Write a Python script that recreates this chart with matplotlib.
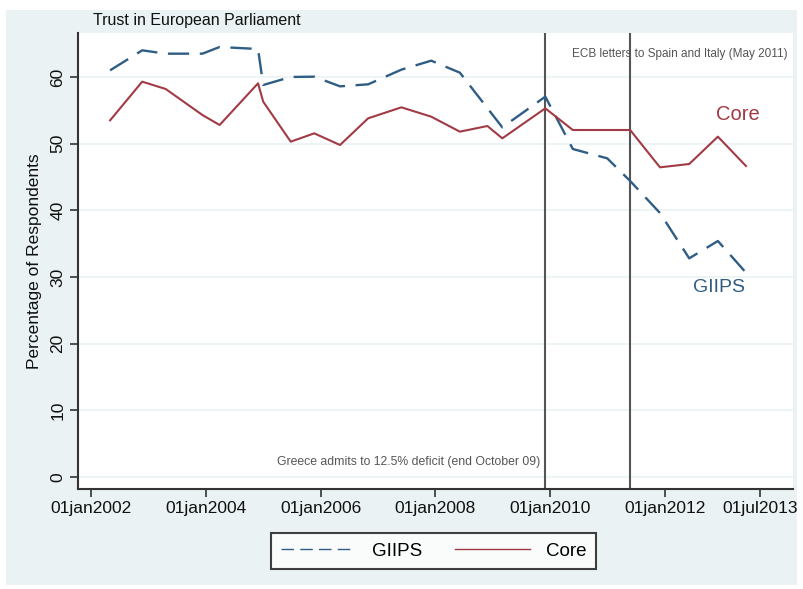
import matplotlib
matplotlib.use("Agg")
import matplotlib.pyplot as plt
from matplotlib.patches import Rectangle
from matplotlib import font_manager

# ---- data (decimal years, percentage of respondents) ----
giips_dates = [2002.33, 2002.89, 2003.30, 2003.94, 2004.24, 2004.91, 2005.00,
               2005.48, 2005.89, 2006.34, 2006.83, 2007.41, 2007.93, 2008.43,
               2009.17, 2009.92, 2010.40, 2011.00, 2011.40, 2011.92, 2012.43,
               2012.93, 2013.42]
giips_values = [61.0, 64.0, 63.5, 63.5, 64.5, 64.2, 58.8,
                60.0, 60.05, 58.6, 58.9, 61.1, 62.45, 60.65,
                52.45, 57.05, 49.2, 47.8, 44.4, 39.6, 32.8,
                35.4, 30.65]

core_dates = [2002.33, 2002.89, 2003.30, 2003.94, 2004.24, 2004.91, 2005.00,
              2005.48, 2005.89, 2006.34, 2006.83, 2007.41, 2007.93, 2008.43,
              2008.91, 2009.17, 2009.92, 2010.40, 2011.00, 2011.40, 2011.92,
              2012.43, 2012.93, 2013.42]
core_values = [53.5, 59.3, 58.2, 54.3, 52.8, 59.05, 56.3,
               50.3, 51.55, 49.8, 53.8, 55.45, 54.05, 51.8,
               52.65, 50.8, 55.3, 52.05, 52.05, 52.05, 46.45,
               46.95, 51.05, 46.65]

event_dates = [2009.92, 2011.40]
xtick_pos = [2002.0, 2004.0, 2006.0, 2008.0, 2010.0, 2012.0, 2013.67]
xtick_labels = ["01jan2002", "01jan2004", "01jan2006", "01jan2008",
                "01jan2010", "01jan2012", "01jul2013"]
ytick_pos = [0, 10, 20, 30, 40, 50, 60]

BG = "#eaf2f3"
BLUE = "#2f5d84"
RED = "#a23a45"

names = {f.name for f in font_manager.fontManager.ttflist}
base = "Liberation Sans" if "Liberation Sans" in names else "DejaVu Sans"
plt.rcParams["font.family"] = [base, "DejaVu Sans"]

fig = plt.figure(figsize=(8.04, 5.89), dpi=100)
fig.patch.set_facecolor("white")
W, H = 804, 589
fig.add_artist(Rectangle((6 / W, 1 - 585 / H), (797 - 6) / W, (585 - 10) / H,
                         transform=fig.transFigure, facecolor=BG,
                         edgecolor="none", zorder=0))

ax = fig.add_axes([78 / W, 1 - 489 / H, (793 - 78) / W, (489 - 33) / H])
ax.set_facecolor("white")
ax.set_xlim(2001.77, 2014.24)
ax.set_ylim(-1.8, 66.6)

for y in ytick_pos:
    ax.axhline(y, color=BG, lw=1.2, zorder=1)

for d in event_dates:
    ax.axvline(d, color="#555555", lw=1.5, zorder=2)

g_line, = ax.plot(giips_dates, giips_values, color=BLUE, lw=1.7,
                  dashes=(9, 4.5), zorder=3, label="GIIPS")
c_line, = ax.plot(core_dates, core_values, color=RED, lw=1.5, zorder=3,
                  label="Core")

ax.spines["top"].set_visible(False)
ax.spines["right"].set_visible(False)
for s in ("left", "bottom"):
    ax.spines[s].set_color("#333333")
    ax.spines[s].set_linewidth(1.5)

ax.set_yticks(ytick_pos)
ax.set_yticklabels([str(v) for v in ytick_pos], rotation=90, va="center",
                   fontsize=12.5)
ax.set_xticks(xtick_pos)
ax.set_xticklabels(xtick_labels, fontsize=12.5)
ax.tick_params(axis="both", direction="out", length=6, width=1.2,
               color="#333333", labelcolor="#111111")
ax.tick_params(axis="x", pad=3)
ax.tick_params(axis="y", pad=3)

ax.set_ylabel("Percentage of Respondents", fontsize=12.5, labelpad=6,
              color="#111111")

fig.text(93 / W, 1 - 20 / H, "Trust in European Parliament", fontsize=11.5,
         ha="left", va="center", color="#111111")

ax.text(2014.14, 63.4, "ECB letters to Spain and Italy (May 2011)",
        fontsize=8.5, ha="right", va="center", color="#555555", zorder=4)
ax.text(2009.83, 2.25, "Greece admits to 12.5% deficit (end October 09)",
        fontsize=8.8, ha="right", va="center", color="#555555", zorder=4)

ax.text(2013.28, 54.3, "Core", fontsize=14.5, color=RED, ha="center",
        va="center")
ax.text(2012.95, 28.35, "GIIPS", fontsize=14, color=BLUE, ha="center",
        va="center")

leg = fig.legend(handles=[g_line, c_line], loc="center",
                 bbox_to_anchor=((272 + 595) / 2 / W, 1 - 551 / H),
                 ncol=2, frameon=True, fancybox=False, fontsize=13.5,
                 handlelength=4.0, columnspacing=1.75, handletextpad=0.85,
                 borderpad=0.5, borderaxespad=0)
leg.get_frame().set_edgecolor("#111111")
leg.get_frame().set_linewidth(1.5)
leg.get_frame().set_facecolor("white")
for h in leg.legend_handles:
    h.set_linewidth(1.0)

fig.savefig("out.png", dpi=100, facecolor=fig.get_facecolor())
